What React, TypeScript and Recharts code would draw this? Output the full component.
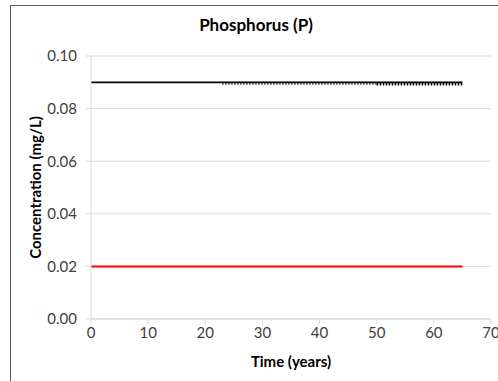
import React from 'react';
import { LineChart, Line, XAxis, YAxis, CartesianGrid } from 'recharts';

const xTicks = [0, 10, 20, 30, 40, 50, 60, 70];
const xMinorTicks = [0, 2, 4, 6, 8, 10, 12, 14, 16, 18, 20, 22, 24, 26, 28, 30, 32, 34, 36, 38, 40, 42, 44, 46, 48, 50, 52, 54, 56, 58, 60, 62, 64, 66, 68, 70];
const yTicks = [0, 0.02, 0.04, 0.06, 0.08, 0.1];

// standard line (black) and lower guideline (red)
const upperLimit = [
  { t: 0, v: 0.09 },
  { t: 65, v: 0.09 },
];
const lowerLimit = [
  { t: 0, v: 0.02 },
  { t: 65, v: 0.02 },
];
// simulated concentration, drawn dotted just under the limit
const simEarly = [
  { t: 23, v: 0.0894 },
  { t: 50, v: 0.0894 },
];
const simLate = [
  { t: 50, v: 0.0893 },
  { t: 65, v: 0.0893 },
];

const font = 'Lato, "Open Sans", sans-serif';

const App: React.FC = () => {
  return (
    <div style={{ position: 'absolute', left: 0, top: 0, width: 498, height: 381, background: '#fff', fontFamily: font }}>
      {/* chart frame, cut off on the right and bottom */}
      <div style={{ position: 'absolute', left: 10, top: 5, width: 600, height: 500, borderLeft: '1px solid #595959', borderTop: '1px solid #595959' }} />
      <div style={{ position: 'absolute', left: 0, width: 512, top: 14, textAlign: 'center', fontSize: 17, fontWeight: 700, color: '#000' }}>
        Phosphorus (P)
      </div>
      <LineChart width={498} height={381} margin={{ top: 56, right: 7, bottom: 0, left: 0 }} style={{ position: 'absolute', left: 0, top: 0 }}>
        <CartesianGrid vertical={false} stroke="#d9d9d9" />
        <XAxis
          xAxisId="minor"
          type="number"
          dataKey="t"
          domain={[0, 70]}
          ticks={xMinorTicks}
          tick={false}
          axisLine={false}
          tickLine={{ stroke: '#d9d9d9' }}
          tickSize={4}
          mirror
          height={0}
        />
        <XAxis
          type="number"
          dataKey="t"
          domain={[0, 70]}
          ticks={xTicks}
          interval={0}
          height={62}
          tickSize={5}
          tickMargin={3}
          axisLine={{ stroke: '#d9d9d9' }}
          tickLine={{ stroke: '#d9d9d9' }}
          tick={{ fontSize: 15, fill: '#404040', fontFamily: font }}
          label={{ value: 'Time (years)', position: 'insideBottom', offset: 14, fontSize: 15, fontWeight: 700, fill: '#000', fontFamily: font }}
        />
        <YAxis
          type="number"
          domain={[0, 0.1]}
          ticks={yTicks}
          interval={0}
          width={91}
          tickSize={5}
          tickMargin={9}
          tickFormatter={(v: number) => v.toFixed(2)}
          axisLine={{ stroke: '#d9d9d9' }}
          tickLine={{ stroke: '#d9d9d9' }}
          tick={{ fontSize: 15, fill: '#404040', fontFamily: font }}
          label={{ value: 'Concentration (mg/L)', angle: -90, position: 'center', dx: -10, fontSize: 15, fontWeight: 700, fill: '#000', fontFamily: font }}
        />
        <Line data={lowerLimit} dataKey="v" stroke="#ff0000" strokeWidth={2} dot={false} isAnimationActive={false} />
        <Line data={upperLimit} dataKey="v" stroke="#000" strokeWidth={1.75} dot={false} isAnimationActive={false} />
        <Line data={simEarly} dataKey="v" stroke="#222" strokeWidth={2} strokeDasharray="1 2" dot={false} isAnimationActive={false} />
        <Line data={simLate} dataKey="v" stroke="#000" strokeWidth={2.5} strokeDasharray="1.5 1.5" dot={false} isAnimationActive={false} />
      </LineChart>
    </div>
  );
};

export default App;
